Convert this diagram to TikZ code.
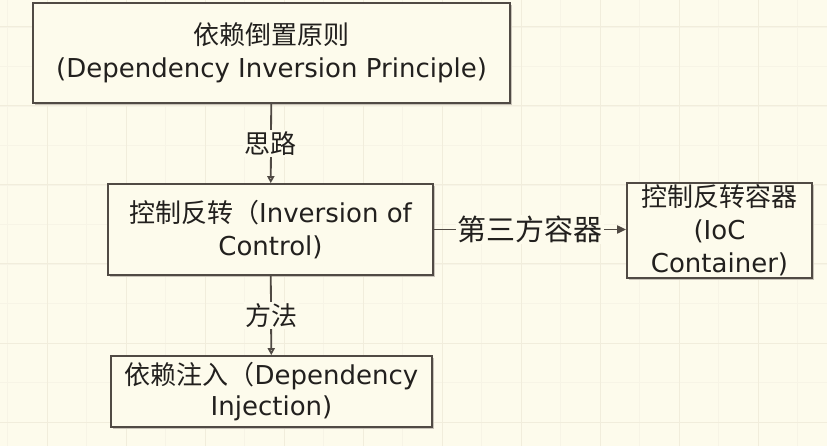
\documentclass[tikz,border=0pt]{standalone}
\usepackage{fontspec}
\setmainfont{DejaVu Sans}
\newfontfamily\cjk{Noto Sans CJK SC}
\usetikzlibrary{arrows.meta}
\usetikzlibrary{shadows, math}
\definecolor{paper}{RGB}{253,251,236}
\definecolor{gridminor}{RGB}{247,244,230}
\definecolor{gridmajor}{RGB}{241,237,220}
\definecolor{boxline}{RGB}{80,74,68}
\definecolor{boxshadow}{RGB}{200,195,184}
\definecolor{inktext}{RGB}{34,32,30}

\begin{document}
\begin{tikzpicture}[x=1pt,y=-1pt,
  box/.style={draw=boxline, line width=1.7pt, fill=paper, align=center, inner sep=0pt,
    text=inktext, font=\fontsize{26}{33}\selectfont,
    drop shadow={shadow xshift=1.6pt, shadow yshift=-1.6pt, fill=boxshadow, opacity=1}},
  flow/.style={draw=boxline, line width=1.8pt},
  lbl/.style={fill=paper, inner sep=1.5pt, text=inktext, font=\fontsize{26}{30}\selectfont\cjk}
]
\tikzmath{
\G=39.5;
}
% paper and grid
\fill[paper] (0,0) rectangle (827,446);
\useasboundingbox (0,0) rectangle (827,446);
\foreach \i in {0,...,21}{
\draw[gridminor, line width=0.8pt] (7.5+\i*\G,0) -- +(0,446);
}
\foreach \j in {0,...,11}{
\draw[gridminor, line width=0.8pt] (0,-12.5+\j*\G) -- +(827,0);
}
\foreach \i in {0,2,...,20}{
\draw[gridmajor, line width=1pt] (\G+7.5+\i*\G,0) -- +(0,446);
}
\foreach \j in {0,2,...,10}{
\draw[gridmajor, line width=1pt] (0,27+\j*\G) -- +(827,0);
}

% boxes
\node[box, minimum width=477pt, minimum height=100pt] (dip) at (271.5,53)
  {{\cjk 依赖倒置原则}\\(Dependency Inversion Principle)};
\node[box, minimum width=325pt, minimum height=91pt] (ioc) at (270.5,229.5)
  {{\cjk 控制反转（}Inversion of\\Control)};
\node[box, minimum width=185pt, minimum height=95pt] (ctr) at (719.5,230.5)
  {{\cjk 控制反转容器}\\(IoC\\Container)};
\node[box, minimum width=321pt, minimum height=71pt, font=\fontsize{26}{31}\selectfont] (di) at (271.5,391.5)
  {{\cjk 依赖注入（}Dependency\\Injection)};

% connectors
\draw[flow, -{Triangle[open, length=7pt, width=7pt]}] (dip) -- node[lbl]{思路} (ioc);
\draw[flow, -{Triangle[open, length=7pt, width=7pt]}] (ioc) -- node[lbl]{方法} (di);
\draw[flow, -{Triangle[length=9pt, width=8pt]}] (ioc.east) -- node[lbl, font=\fontsize{29}{32}\selectfont\cjk]{第三方容器} (ioc.east -| ctr.west);
\end{tikzpicture}
\end{document}
